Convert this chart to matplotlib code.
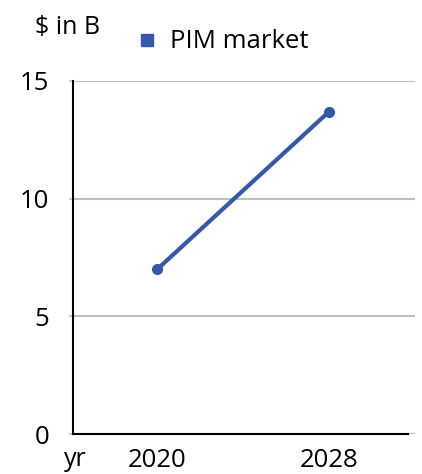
import matplotlib
matplotlib.use("Agg")
import matplotlib.pyplot as plt
from matplotlib.lines import Line2D

years = ["2020", "2028"]
market = [7.0, 13.7]
y_ticks = [0, 5, 10, 15]

plt.rcParams["font.family"] = ["Open Sans", "DejaVu Sans"]

line_color = "#3558aa"
grid_color = "#bfbfbf"

fig = plt.figure(figsize=(4.22, 4.74), dpi=100)
ax = fig.add_axes([73 / 422, 40 / 474, (415 - 73) / 422, (434 - 81) / 474])

x = list(range(len(years)))
ax.plot(x, market, color=line_color, linewidth=3, marker="o", markersize=7,
        solid_capstyle="round", zorder=3)

ax.set_xlim(-0.49, 1.5)
ax.set_ylim(0, 15)
ax.set_yticks(y_ticks)
ax.set_yticklabels([str(t) for t in y_ticks])
ax.set_xticks(x)
ax.set_xticklabels(years)

for t in y_ticks:
    ax.axhline(t, color=grid_color, linewidth=1.5, zorder=1)

for side in ["top", "right"]:
    ax.spines[side].set_visible(False)
ax.spines["left"].set_linewidth(1.5)
ax.spines["bottom"].set_linewidth(1.5)
ax.spines["bottom"].set_bounds(-0.49, 1.46)
ax.spines["left"].set_zorder(4)
ax.spines["bottom"].set_zorder(4)

ax.tick_params(axis="y", length=3, width=1.2, color=grid_color, pad=14,
               labelsize=18.5)
ax.tick_params(axis="x", length=0, pad=10, labelsize=18.5)

fig.text(35 / 422, 1 - 28 / 474, "$ in B", fontsize=18, va="center", ha="left")
fig.text(64 / 422, 8 / 474, "yr", fontsize=18, va="baseline", ha="left")

handle = Line2D([], [], color=line_color, marker="s", linestyle="none",
                markersize=8)
fig.legend([handle], ["PIM market"], loc="center left",
           bbox_to_anchor=(137 / 422, 1 - 42 / 474), frameon=False,
           fontsize=18.5, handlelength=0.8, handletextpad=0.5, borderpad=0,
           borderaxespad=0)

fig.savefig("out.png", dpi=100)
